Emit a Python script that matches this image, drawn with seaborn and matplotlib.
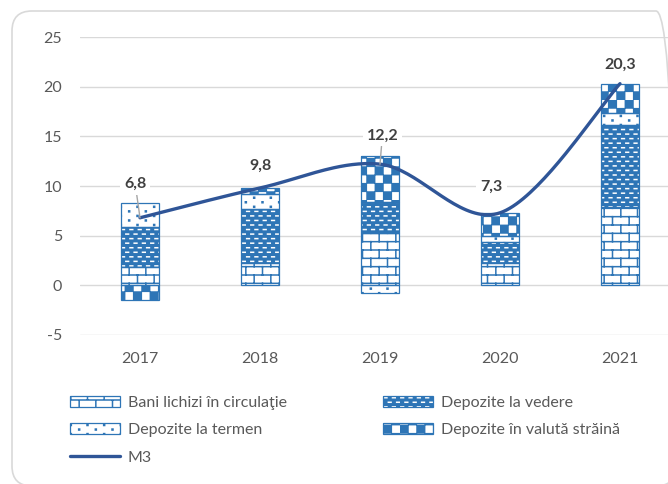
import numpy as np
import pandas as pd
import matplotlib
matplotlib.use("Agg")
import matplotlib.pyplot as plt
import matplotlib.hatch as mhatch
import matplotlib.transforms as mtransforms
from matplotlib.path import Path
from matplotlib.patches import FancyBboxPatch, Patch
from matplotlib.lines import Line2D
from matplotlib.legend_handler import HandlerTuple
import seaborn as sns

# ---------------- data ----------------
years = ["2017", "2018", "2019", "2020", "2021"]
bani_lichizi = [1.8, 2.2, 5.3, 2.2, 7.9]
depozite_vedere = [4.1, 5.5, 3.1, 2.2, 8.2]
depozite_termen = [2.4, 1.5, -0.8, 0.6, 1.25]
depozite_valuta = [-1.5, 0.6, 4.6, 2.3, 2.95]
m3 = [6.8, 9.8, 12.2, 7.3, 20.3]
m3_labels = ["6,8", "9,8", "12,2", "7,3", "20,3"]
y_ticks = [-5, 0, 5, 10, 15, 20, 25]
series_names = ["Bani lichizi în circulaţie", "Depozite la vedere",
                "Depozite la termen", "Depozite în valută străină"]
line_name = "M3"

# ---------------- styling ----------------
BLUE = "#2E75B6"
LINE = "#2F5597"
GRID = "#D9D9D9"
TXT = "#595959"
LBL = "#404040"


# custom hatch patterns (brick, dashes, dots, checkerboard)
class PatternHatch(mhatch.HatchPatternBase):
    char = ""

    def __init__(self, hatch, density):
        self.polys = self.build() if (hatch and self.char in hatch) else []
        self.num_vertices = sum(len(p) + (1 if c else 0) for p, c in self.polys)

    def build(self):
        return []

    def set_vertices_and_codes(self, vertices, codes):
        i = 0
        for pts, closed in self.polys:
            n = len(pts)
            vertices[i:i + n] = pts
            codes[i] = Path.MOVETO
            codes[i + 1:i + n] = Path.LINETO
            i += n
            if closed:
                vertices[i] = pts[0]
                codes[i] = Path.CLOSEPOLY
                i += 1


class BrickHatch(PatternHatch):
    char = "+"

    def build(self):
        rows, cols = 12, 6
        h, w = 1 / rows, 1 / cols
        polys = [([(0, r * h), (1, r * h)], False) for r in range(rows + 1)]
        for r in range(rows):
            for c in range(cols):
                x = (c + 0.25 + 0.5 * (r % 2)) * w
                polys.append(([(x, r * h), (x, (r + 1) * h)], False))
        return polys


class DashHatch(PatternHatch):
    char = "-"

    def build(self):
        rows, cols = 22, 12
        polys = []
        for r in range(rows):
            y = (r + 0.5) / rows
            for c in range(cols):
                x0 = (c + 0.1 + 0.5 * (r % 2)) / cols
                polys.append(([(x0, y), (x0 + 0.33 / cols, y)], False))
        return polys


class DotHatch(PatternHatch):
    char = "."

    def build(self):
        rows, cols = 22, 6
        s = 0.005
        polys = []
        for r in range(rows):
            y = (r + 0.5) / rows
            for c in range(cols):
                x = (c + 0.25 + 0.5 * (r % 2)) / cols
                polys.append(([(x - s, y - s), (x + s, y - s), (x + s, y + s), (x - s, y + s)], True))
        return polys


class CheckerHatch(PatternHatch):
    char = "x"

    def build(self):
        n = 12
        d = 1 / n
        e = 0.0035
        polys = []
        for i in range(n):
            for j in range(n):
                if (i + j) % 2 == 0:
                    x0, y0, x1, y1 = i * d + e, j * d + e, (i + 1) * d - e, (j + 1) * d - e
                    polys.append(([(x0, y0), (x1, y0), (x1, y1), (x0, y1)], True))
        return polys


mhatch._hatch_types = [BrickHatch, DashHatch, DotHatch, CheckerHatch]

sns.set_theme(style="white")
plt.rcParams["font.family"] = ["Lato", "DejaVu Sans"]
plt.rcParams["hatch.linewidth"] = 1.1

W, H = 668, 484
fig = plt.figure(figsize=(W / 100, H / 100), dpi=100)
fig.patch.set_facecolor("white")
ax = fig.add_axes([80 / W, (H - 335) / H, 600 / W, 298 / H])
ax.set_facecolor("none")

df = pd.DataFrame({"year": years, "bani": bani_lichizi, "vedere": depozite_vedere,
                   "termen": depozite_termen, "valuta": depozite_valuta, "m3": m3})

styles = [("bani", "white", BLUE, "+"),
          ("vedere", BLUE, "white", "-"),
          ("termen", "white", BLUE, "."),
          ("valuta", "white", BLUE, "x")]

pos = np.zeros(len(years))
neg = np.zeros(len(years))
bar_w = 0.32
legend_handles = []
for (col, fc, hc, hatch), name in zip(styles, series_names):
    vals = df[col].to_numpy(dtype=float)
    bottom = np.where(vals >= 0, pos, neg)
    # hatched fill layer
    sns.barplot(x=df["year"], y=vals, bottom=bottom, width=bar_w, errorbar=None,
                color=BLUE, saturation=1, ax=ax)
    for p in ax.containers[-1]:
        p.set_facecolor(fc)
        p.set_edgecolor(hc)
        p.set_hatch(hatch)
        p.set_linewidth(0)
        p.set_zorder(2)
    # outline layer
    sns.barplot(x=df["year"], y=vals, bottom=bottom, width=bar_w, errorbar=None,
                color=BLUE, saturation=1, ax=ax)
    for p in ax.containers[-1]:
        p.set_facecolor("none")
        p.set_edgecolor(BLUE)
        p.set_linewidth(0.9)
        p.set_zorder(2.1)
    pos = np.where(vals >= 0, pos + vals, pos)
    neg = np.where(vals < 0, neg + vals, neg)
    h1 = Patch(facecolor=fc, edgecolor=hc, hatch=hatch, linewidth=0)
    h2 = Patch(facecolor="none", edgecolor=BLUE, linewidth=0.9)
    legend_handles.append(((h1, h2), name))

# smoothed M3 line (Excel-style Bezier smoothing through the points)
xp = np.arange(len(m3), dtype=float)
yp = np.array(m3, dtype=float)
P = np.column_stack([xp, yp])
curve = []
t = np.linspace(0, 1, 40)[:, None]
for i in range(len(P) - 1):
    p0 = P[i - 1] if i > 0 else P[i]
    p3 = P[i + 2] if i + 2 < len(P) else P[i + 1]
    c1 = P[i] + (P[i + 1] - p0) / 6
    c2 = P[i + 1] - (p3 - P[i]) / 6
    seg = ((1 - t) ** 3) * P[i] + 3 * ((1 - t) ** 2) * t * c1 + 3 * (1 - t) * t ** 2 * c2 + t ** 3 * P[i + 1]
    curve.append(seg if i == 0 else seg[1:])
curve = np.vstack(curve)
sns.lineplot(x=curve[:, 0], y=curve[:, 1], sort=False, estimator=None, color=LINE,
             linewidth=2.4, ax=ax, legend=False, zorder=3)
line_handle = Line2D([], [], color=LINE, linewidth=2.4)

# data labels
label_offsets = [(-0.04, 3.4), (0.0, 2.2), (0.02, 2.9), (-0.07, 2.6), (0.0, 1.9)]
leader = [True, False, True, False, False]
for i, (txt, (dx, dy)) in enumerate(zip(m3_labels, label_offsets)):
    kw = dict(arrowprops=dict(arrowstyle="-", color="#A6A6A6", lw=1.0, shrinkA=0, shrinkB=0)) if leader[i] else {}
    ax.annotate(txt, xy=(i, m3[i]), xytext=(i + dx, m3[i] + dy), ha="center", va="center",
                fontsize=11.5, fontweight="bold", color=LBL, zorder=4,
                bbox=dict(boxstyle="square,pad=0.25", fc="white", ec="none"), **kw)

ax.set_xlim(-0.5, 4.5)
ax.set_ylim(-5, 25)
ax.set_yticks(y_ticks)
ax.set_yticklabels([str(v) for v in y_ticks])
ax.set_xlabel("")
ax.set_ylabel("")
ax.grid(axis="y", color=GRID, linewidth=1.0, zorder=0)
ax.grid(axis="x", visible=False)
ax.set_axisbelow(True)
for s in ax.spines.values():
    s.set_visible(False)
ax.tick_params(axis="y", length=0, pad=13, labelsize=11.5, labelcolor=TXT)
ax.tick_params(axis="x", length=0, pad=12.5, labelsize=11.5, labelcolor=TXT)

# legend (column-major: first column Bani, Termen, M3; second Vedere, Valuta)
all_h = [h for h, _ in legend_handles] + [line_handle]
all_l = [l for _, l in legend_handles] + [line_name]
hs = [all_h[0], all_h[2], all_h[4], all_h[1], all_h[3]]
ls = [all_l[0], all_l[2], all_l[4], all_l[1], all_l[3]]
leg = fig.legend(hs, ls, ncol=2, loc="upper left", bbox_to_anchor=(70 / W, (H - 396) / H),
                 frameon=False, fontsize=11.5, labelcolor=TXT, handlelength=3.1,
                 handleheight=0.62, handletextpad=0.5, labelspacing=0.83,
                 columnspacing=6.05, borderpad=0, borderaxespad=0,
                 handler_map={tuple: HandlerTuple(ndivide=1, pad=0)})

# rounded chart frame
frame = FancyBboxPatch((12, -2), 664, 475, boxstyle="round,pad=0,rounding_size=20",
                       transform=mtransforms.IdentityTransform(), fc="none", ec=GRID, lw=1.2)
fig.add_artist(frame)

fig.savefig("out.png", dpi=100)
